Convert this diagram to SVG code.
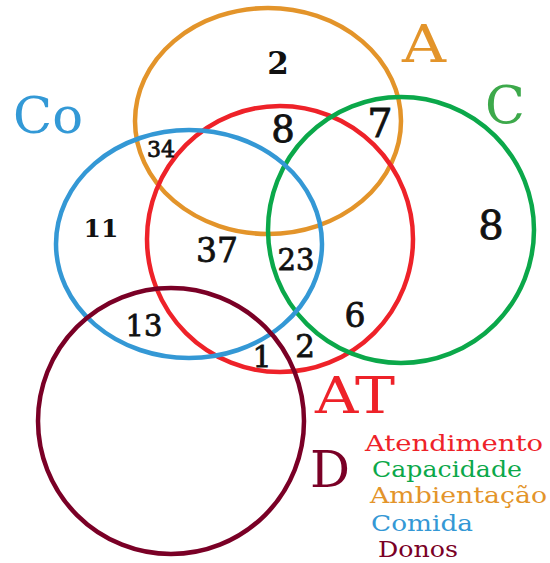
<svg xmlns="http://www.w3.org/2000/svg" width="550" height="563" viewBox="0 0 550 563">
<style>
.c{fill:none;stroke-width:4.5}
.n{font-family:"DejaVu Serif","Liberation Serif",serif;fill:#111;stroke:#111;stroke-width:0.8;text-anchor:middle}
.b{font-weight:bold;stroke-width:0}
.l{font-family:"DejaVu Serif","Liberation Serif",serif}
.g{font-family:"DejaVu Serif","Liberation Serif",serif;font-size:23px}
</style>
<rect width="550" height="563" fill="#fff"/>
<g id="A"><ellipse class="c" cx="268" cy="121" rx="133" ry="113" stroke="#E3942A"/></g>
<g id="AT"><circle class="c" cx="280" cy="239" r="133" stroke="#EE2229"/></g>
<g id="C"><circle class="c" cx="401" cy="230" r="133" stroke="#0BA84A"/></g>
<g id="Co"><ellipse class="c" cx="189" cy="244" rx="133" ry="114" stroke="#3498D5"/></g>
<g id="D"><circle class="c" cx="171" cy="421" r="133" stroke="#7A0026"/></g>
<g id="labels">
<text class="l" x="402" y="62" font-size="52" fill="#E3942A" textLength="44" lengthAdjust="spacingAndGlyphs">A</text>
<text class="l" x="485" y="123" font-size="52" fill="#3DA94B" textLength="40" lengthAdjust="spacingAndGlyphs">C</text>
<text class="l" x="13" y="133" font-size="50" fill="#3399D6" textLength="70" lengthAdjust="spacingAndGlyphs">Co</text>
<text class="l" x="315" y="413" font-size="50" fill="#EE2229" textLength="80" lengthAdjust="spacingAndGlyphs">AT</text>
<text class="l" x="310" y="487" font-size="50" fill="#7A0026" textLength="40" lengthAdjust="spacingAndGlyphs">D</text>
</g>
<g id="numbers">
<text class="n b" x="278" y="74" font-size="31">2</text>
<text class="n" x="283" y="142" font-size="37">8</text>
<text class="n" x="380" y="137" font-size="40">7</text>
<text class="n" x="161" y="157" font-size="22">34</text>
<text class="n b" x="101" y="237" font-size="25">11</text>
<text class="n" x="217" y="262" font-size="33">37</text>
<text class="n" x="296" y="270" font-size="29">23</text>
<text class="n" x="491" y="239" font-size="40">8</text>
<text class="n" x="355" y="327" font-size="33">6</text>
<text class="n" x="305" y="357" font-size="31">2</text>
<text class="n" x="262" y="367" font-size="30">1</text>
<text class="n" x="144" y="336" font-size="29">13</text>
</g>
<g id="legend">
<text class="g" x="365" y="451" fill="#EE2229" textLength="178" lengthAdjust="spacingAndGlyphs">Atendimento</text>
<text class="g" x="372" y="477" fill="#0BA84A" textLength="150" lengthAdjust="spacingAndGlyphs">Capacidade</text>
<text class="g" x="370" y="503" fill="#E3942A" textLength="177" lengthAdjust="spacingAndGlyphs">Ambientação</text>
<text class="g" x="371" y="531" fill="#3498D5" textLength="102" lengthAdjust="spacingAndGlyphs">Comida</text>
<text class="g" x="378" y="557" fill="#7A0026" textLength="80" lengthAdjust="spacingAndGlyphs">Donos</text>
</g>
</svg>
